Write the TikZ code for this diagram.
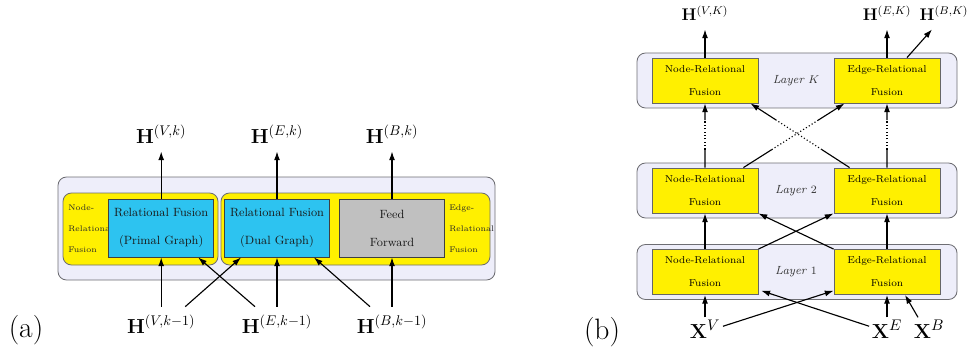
\documentclass[tikz,border=0pt]{standalone}
\usepackage{amsmath}
\usetikzlibrary{arrows.meta,positioning,calc}
\definecolor{fuseyellow}{RGB}{255,240,0}
\definecolor{fuseblue}{RGB}{45,195,240}
\definecolor{ffgray}{RGB}{192,192,192}
\definecolor{layerbg}{RGB}{238,238,250}
\definecolor{framegray}{RGB}{110,110,115}
\tikzset{
  layer/.style={draw=framegray,fill=layerbg,rounded corners=6pt,line width=0.6pt,inner sep=0pt},
  fusion/.style={draw=framegray,fill=fuseyellow,rounded corners=6pt,line width=0.6pt,inner sep=0pt},
  rfblock/.style={draw=black!75,fill=fuseblue,line width=0.6pt,minimum width=2.625cm,minimum height=1.45cm,align=center,inner sep=0pt,text=black!90,font=\fontsize{8.5}{20}\selectfont},
  ffblock/.style={rfblock,fill=ffgray},
  nrblock/.style={draw=black!60,fill=fuseyellow,line width=0.6pt,minimum width=2.65cm,minimum height=1.125cm,align=center,inner sep=0pt,font=\fontsize{7.1}{16.3}\selectfont},
  sidetext/.style={anchor=west,align=left,inner sep=0pt,text=black!85,font=\fontsize{5.8}{15}\selectfont},
  layertext/.style={text=black!80,font=\fontsize{8.4}{10}\selectfont\itshape},
  hlab/.style={anchor=base,inner sep=0pt,outer sep=6pt,font=\fontsize{14}{16}\selectfont},
  hlabsmall/.style={hlab,font=\fontsize{11.5}{13}\selectfont},
  xlab/.style={anchor=base,inner sep=0pt,outer sep=2pt,font=\fontsize{15}{17}\selectfont},
  panel/.style={font=\fontsize{21}{24}\selectfont},
  line/.style={line width=0.8pt},
  arrow/.style={-{Latex[length=2.2mm,width=1.5mm]},line width=0.8pt},
  faint/.style={line width=0.8pt,dash pattern=on 0.8pt off 1.6pt}
}
\begin{document}
\begin{tikzpicture}
\useasboundingbox (0,0) rectangle (24.2,8.8);

% (a) one fusion layer
\node[layer,minimum width=10.925cm,minimum height=2.575cm] (outa) at (6.9125,3.0875) {};
\node[fusion,minimum width=3.875cm,minimum height=1.8cm] (nodefus) at (3.5125,3.075) {};
\node[fusion,minimum width=6.725cm,minimum height=1.8cm] (edgefus) at (8.8875,3.075) {};
\node[sidetext] (nodetxt) at (1.7,3.075) {Node-\\Relational\\Fusion};
\node[sidetext] (edgetxt) at (11.225,3.075) {Edge-\\Relational\\Fusion};
\node[rfblock] (rf1) at (4.03,3.1) {Relational Fusion\\(Primal Graph)};
\node[rfblock] (rf2) at (6.925,3.1) {Relational Fusion\\(Dual Graph)};
\node[ffblock] (ff) at (9.8,3.1) {Feed\\Forward};

\node[hlab] (hv) at (4.03,5.225) {$\mathbf{H}^{(V,k)}$};
\node[hlab] (he) at (6.925,5.225) {$\mathbf{H}^{(E,k)}$};
\node[hlab] (hb) at (9.8,5.225) {$\mathbf{H}^{(B,k)}$};
\node[hlab] (hv0) at (4.03,0.475) {$\mathbf{H}^{(V,k-1)}$};
\node[hlab] (he0) at (6.925,0.475) {$\mathbf{H}^{(E,k-1)}$};
\node[hlab] (hb0) at (9.8,0.475) {$\mathbf{H}^{(B,k-1)}$};

\draw[arrow] (rf1) -- (hv);
\draw[arrow] (rf2) -- (he);
\draw[arrow] (ff) -- (hb);
\draw[arrow] (hv0) -- (rf1);
\draw[arrow] (he0) -- (rf2);
\draw[arrow] (hb0) -- (ff);
\draw[arrow] ([xshift=0.6cm]hv0.north) -- ([xshift=0.425cm]rf2.south west);
\draw[arrow] ([xshift=-0.55cm]he0.north) -- ([xshift=-0.4cm]rf1.south east);
\draw[arrow] ([xshift=-0.55cm]hb0.north) -- ([xshift=-0.4cm]rf2.south east);

\node[panel] (capa) at (0.65,0.55) {(a)};

% (b) stack of layers
\foreach \n/\y/\l in {K/6.7875/$K$,2/4.0375/$2$,1/2.0/$1$}{
  \node[layer,minimum width=8cm,minimum height=1.375cm] (lay\n) at (19.925,\y) {};
  \node[nrblock] (n\n) at (17.625,\y) {Node-Relational\\Fusion};
  \node[nrblock] (e\n) at (22.175,\y) {Edge-Relational\\Fusion};
  \node[layertext] (lt\n) at (19.9,\y) {Layer \l};
}

\node[hlabsmall] (hvK) at (17.625,8.275) {$\mathbf{H}^{(V,K)}$};
\node[hlabsmall] (heK) at (22.175,8.275) {$\mathbf{H}^{(E,K)}$};
\node[hlabsmall] (hbK) at (23.6,8.275) {$\mathbf{H}^{(B,K)}$};
\node[xlab] (xv) at (17.625,0.35) {$\mathbf{X}^{V}$};
\node[xlab] (xe) at (22.175,0.35) {$\mathbf{X}^{E}$};
\node[xlab] (xb) at (23.225,0.35) {$\mathbf{X}^{B}$};

\draw[arrow] (nK) -- (hvK);
\draw[arrow] (eK) -- (heK);
\draw[arrow] ([xshift=0.5cm]eK.north) -- ([xshift=-0.3cm]hbK.south);

% layer 2 up to layer K (layers in between left out)
\coordinate (d1s) at ([xshift=-0.375cm]n2.north east);
\coordinate (d1t) at ([xshift=0.275cm]eK.south west);
\coordinate (d2s) at ([xshift=0.4cm]e2.north west);
\coordinate (d2t) at ([xshift=-0.2cm]nK.south east);
\foreach \s/\t in {n2.north/nK.south,e2.north/eK.south,d1s/d1t,d2s/d2t}{
  \draw[line] (\s) -- ($(\s)!.28!(\t)$);
  \draw[faint] ($(\s)!.28!(\t)$) -- ($(\s)!.74!(\t)$);
  \draw[arrow] ($(\s)!.74!(\t)$) -- (\t);
}

% layer 1 up to layer 2
\draw[arrow] (n1) -- (n2);
\draw[arrow] (e1) -- (e2);
\draw[arrow] (n1.north east) -- (e2.south west);
\draw[arrow] (e1.north west) -- (n2.south east);

% inputs
\draw[arrow] (xv) -- (n1);
\draw[arrow] (xe) -- (e1);
\draw[arrow] ([yshift=2pt]xv.east) -- ([yshift=3pt]e1.south west);
\draw[arrow] ([yshift=2pt]xe.west) -- ([xshift=2pt,yshift=3pt]n1.south east);
\draw[arrow] ([xshift=-0.275cm]xb.north) -- ([xshift=0.45cm]e1.south);

\node[panel] (capb) at (15.05,0.5) {(b)};
\end{tikzpicture}
\end{document}
